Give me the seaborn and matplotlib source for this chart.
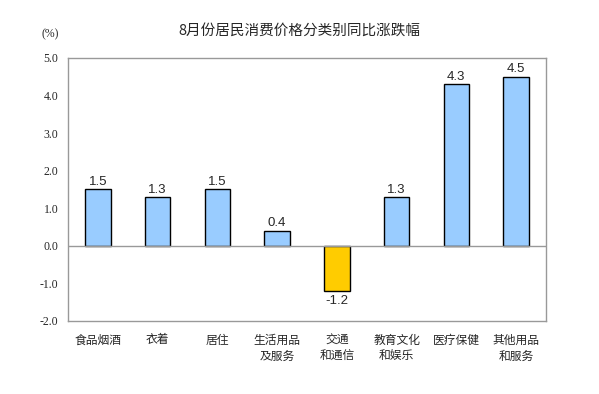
import matplotlib
matplotlib.use("Agg")
import matplotlib.pyplot as plt
import seaborn as sns
import pandas as pd

####### data #######
categories = ['食品烟酒', '衣着', '居住', '生活用品\n及服务', '交通\n和通信',
              '教育文化\n和娱乐', '医疗保健', '其他用品\n和服务']
values = [1.5, 1.3, 1.5, 0.4, -1.2, 1.3, 4.3, 4.5]
yticks = [-2.0, -1.0, 0.0, 1.0, 2.0, 3.0, 4.0, 5.0]

df = pd.DataFrame({'cat': categories, 'val': values})

sns.set_style('white')
plt.rcParams['font.family'] = ['Noto Sans CJK SC', 'DejaVu Sans']

fig = plt.figure(figsize=(5.99, 3.94), dpi=100)
ax = fig.add_axes([0.1135, 0.1853, 0.798, 0.6675])

colors = ['#FFCC00' if v < 0 else '#99CCFF' for v in values]
sns.barplot(data=df, x='cat', y='val', hue='cat', palette=colors, legend=False,
            width=0.43, edgecolor='black', linewidth=1, saturation=1, ax=ax)

ax.set_ylim(-2, 5)
ax.set_xlim(-0.5, len(categories) - 0.5)
ax.set_yticks(yticks)
ax.set_yticklabels([f'{t:.1f}' for t in yticks], family='Liberation Serif', fontsize=8.5)
ax.tick_params(axis='y', length=0, pad=7)
ax.tick_params(axis='x', length=0, pad=9)
for lab in ax.get_xticklabels():
    lab.set_fontsize(8.5)
    lab.set_linespacing(1.3)
ax.set_xlabel('')
ax.set_ylabel('')
ax.axhline(0, color='#999999', lw=1, zorder=1)

for s in ax.spines.values():
    s.set_color('#999999')
    s.set_linewidth(1)

# value labels
for i, v in enumerate(values):
    if v >= 0:
        ax.text(i, v + 0.04, f'{v:.1f}', ha='center', va='bottom',
                family='Liberation Sans', fontsize=9.5)
    else:
        ax.text(i, v - 0.1, f'{v:.1f}', ha='center', va='top',
                family='Liberation Sans', fontsize=9.5)

fig.text(0.5, 0.922, '8月份居民消费价格分类别同比涨跌幅', ha='center', va='center',
         fontsize=10.5)
fig.text(0.083, 0.912, '(%)', ha='center', va='center',
         family='Liberation Serif', fontsize=8.5)

fig.savefig('out.png', dpi=100)
